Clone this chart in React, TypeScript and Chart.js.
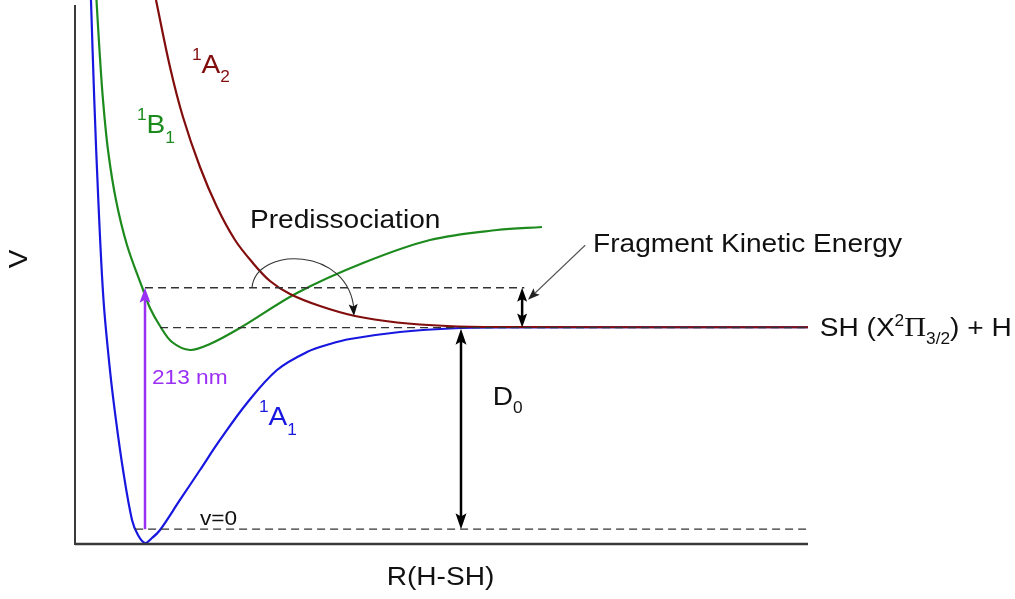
import React, { useEffect, useRef } from "react";
import { Chart, registerables } from "chart.js";

Chart.register(...registerables);

// ---- Data (R: internuclear distance, arbitrary units 0..100; V: energy, arbitrary units 0..100) ----
// Ground state 1A1
const R_A1 = [2.18, 2.63, 3.18, 3.89, 4.77, 5.59, 6.55, 7.78, 8.59, 9.55, 10.5, 11.6, 14.32, 17.05, 19.78, 23.47, 27.56, 31.65, 34.79, 37.52, 44.34, 51.16, 57.98, 100];
const V_A1 = [100, 81.65, 63.3, 44.95, 32.1, 22.9, 13.8, 4.6, 1.83, 0.37, 1.28, 2.75, 8.26, 13.76, 19.27, 26.06, 32.11, 35.41, 36.88, 37.8, 39.08, 39.72, 39.91, 39.95];
// Excited state 1B1 (bound)
const R_B1 = [2.93, 3.34, 3.82, 4.5, 5.59, 7.09, 9.14, 10.23, 11.6, 13.23, 15.69, 18.42, 22.51, 30.29, 39.29, 48.43, 57.57, 63.71];
const V_B1 = [100, 90.83, 81.65, 72.48, 63.3, 55.05, 47.34, 43.49, 40.18, 37.25, 35.78, 36.88, 39.82, 46.24, 51.74, 55.96, 57.8, 58.35];
// Repulsive state 1A2
const R_A2 = [11.05, 12.96, 14.73, 17.05, 19.37, 21.83, 24.15, 26.6, 29.33, 33.42, 38.2, 43.93, 50.75, 57.98, 100];
const V_A2 = [100, 87.71, 78.53, 69.36, 62.02, 55.96, 51.93, 48.44, 46.06, 43.85, 42.02, 40.83, 40.18, 40.0, 39.95];

// Horizontal (dashed) energy levels
const LEVEL_NAMES = ["excited", "asymptote", "v=0"];
const LEVEL_V = [47.2, 39.9, 2.9];
const LEVEL_R_START = [9.55, 11.6, 8.2];
const LEVEL_R_END = [61.3, 100, 100];

// Vertical arrows: [R, V from, V to]
const PHOTON_ARROW = [9.55, 2.9, 47.2];
const D0_ARROW = [52.66, 39.7, 2.9];
const FKE_ARROW = [61.0, 47.2, 39.9];

// ---- styles ----
const BLUE = "#1717e0";
const GREEN = "#1d8a1d";
const RED = "#820d0d";
const PURPLE = "#9b30f5";
const SANS = "'Liberation Sans', Arial, sans-serif";
const SERIF = "'Liberation Serif', 'Times New Roman', serif";
const SX = 1.08;

type Part = { t: string; size: number; dy?: number; serif?: boolean };

function drawParts(ctx: CanvasRenderingContext2D, x: number, y: number, parts: Part[], color: string) {
  ctx.save();
  ctx.translate(x, y);
  ctx.scale(SX, 1);
  ctx.fillStyle = color;
  ctx.textBaseline = "alphabetic";
  ctx.textAlign = "left";
  let cx = 0;
  for (const p of parts) {
    ctx.font = `${p.size}px ${p.serif ? SERIF : SANS}`;
    ctx.fillText(p.t, cx, p.dy || 0);
    cx += ctx.measureText(p.t).width;
  }
  ctx.restore();
}

function arrowHead(ctx: CanvasRenderingContext2D, tipX: number, tipY: number, ang: number, len: number, halfW: number, color: string) {
  ctx.save();
  ctx.translate(tipX, tipY);
  ctx.rotate(ang);
  ctx.fillStyle = color;
  ctx.beginPath();
  ctx.moveTo(0, 0);
  ctx.lineTo(-len, halfW);
  ctx.lineTo(-len * 0.8, 0);
  ctx.lineTo(-len, -halfW);
  ctx.closePath();
  ctx.fill();
  ctx.restore();
}

function line(ctx: CanvasRenderingContext2D, x1: number, y1: number, x2: number, y2: number, color: string, w: number) {
  ctx.save();
  ctx.strokeStyle = color;
  ctx.lineWidth = w;
  ctx.beginPath();
  ctx.moveTo(x1, y1);
  ctx.lineTo(x2, y2);
  ctx.stroke();
  ctx.restore();
}

const toPts = (xs: number[], ys: number[]) => xs.map((x, i) => ({ x, y: ys[i] }));

const annotationPlugin = {
  id: "pesAnnotations",
  afterDatasetsDraw(chart: any) {
    const ctx: CanvasRenderingContext2D = chart.ctx;
    const xs = chart.scales.x;
    const ys = chart.scales.y;
    const px = (v: number) => xs.getPixelForValue(v);
    const py = (v: number) => ys.getPixelForValue(v);
    const area = chart.chartArea;

    // axes
    line(ctx, area.left, area.top + 5, area.left, area.bottom, "#3a3a3a", 2);
    line(ctx, area.left, area.bottom - 1, area.right, area.bottom - 1, "#3a3a3a", 2.5);

    // photon arrow (213 nm)
    {
      const x = px(PHOTON_ARROW[0]);
      const y1 = py(PHOTON_ARROW[1]);
      const y2 = py(PHOTON_ARROW[2]);
      line(ctx, x, y1, x, y2 + 12, PURPLE, 2.5);
      arrowHead(ctx, x, y2, -Math.PI / 2, 15, 5.5, PURPLE);
    }
    // D0 arrow
    {
      const x = px(D0_ARROW[0]);
      const yTop = py(D0_ARROW[1]);
      const yBot = py(D0_ARROW[2]);
      line(ctx, x, yTop + 12, x, yBot - 12, "#000", 2.5);
      arrowHead(ctx, x, yTop, -Math.PI / 2, 16, 5.5, "#000");
      arrowHead(ctx, x, yBot, Math.PI / 2, 16, 5.5, "#000");
    }
    // Fragment kinetic energy arrow
    {
      const x = px(FKE_ARROW[0]);
      const yTop = py(FKE_ARROW[1]);
      const yBot = py(FKE_ARROW[2]);
      line(ctx, x, yTop + 10, x, yBot - 10, "#000", 2.5);
      arrowHead(ctx, x, yTop, -Math.PI / 2, 14, 5, "#000");
      arrowHead(ctx, x, yBot, Math.PI / 2, 14, 5, "#000");
    }
    // pointer from label to the kinetic-energy arrow
    {
      const x1 = px(69.6), y1 = py(55.0);
      const x2 = px(61.8), y2 = py(45.0);
      const ang = Math.atan2(y2 - y1, x2 - x1);
      line(ctx, x1, y1, x2 - Math.cos(ang) * 8, y2 - Math.sin(ang) * 8, "#555", 1.1);
      arrowHead(ctx, x2, y2, ang, 12, 4.5, "#222");
    }
    // predissociation curved arrow
    {
      const s = [px(24.15), py(47.25)];
      const c1 = [px(24.69), py(54.86)];
      const c2 = [px(37.4), py(54.86)];
      const e = [px(38.06), py(42.0)];
      ctx.save();
      ctx.strokeStyle = "#333";
      ctx.lineWidth = 1.1;
      ctx.beginPath();
      ctx.moveTo(s[0], s[1]);
      ctx.bezierCurveTo(c1[0], c1[1], c2[0], c2[1], e[0], e[1] - 6);
      ctx.stroke();
      ctx.restore();
      const ang = Math.atan2(e[1] - c2[1], e[0] - c2[0]);
      arrowHead(ctx, e[0], e[1], ang, 12, 4.5, "#111");
    }

    // text labels
    drawParts(ctx, px(23.87), py(58.17), [{ t: "Predissociation", size: 26 }], "#111");
    drawParts(ctx, px(70.67), py(53.76), [{ t: "Fragment Kinetic Energy", size: 26 }], "#111");
    drawParts(ctx, px(101.6), py(38.4), [
      { t: "SH (X", size: 26 },
      { t: "2", size: 16, dy: -10 },
      { t: "\u03A0", size: 28, serif: true },
      { t: "3/2", size: 16, dy: 8 },
      { t: ") + H", size: 26 },
    ], "#111");
    drawParts(ctx, px(15.96), py(86.6), [
      { t: "1", size: 16, dy: -13 },
      { t: "A", size: 26 },
      { t: "2", size: 16, dy: 9 },
    ], RED);
    drawParts(ctx, px(8.46), py(75.6), [
      { t: "1", size: 16, dy: -13 },
      { t: "B", size: 26 },
      { t: "1", size: 16, dy: 10 },
    ], GREEN);
    drawParts(ctx, px(25.1), py(22.0), [
      { t: "1", size: 16, dy: -13 },
      { t: "A", size: 26 },
      { t: "1", size: 16, dy: 10 },
    ], BLUE);
    drawParts(ctx, px(10.5), py(29.5), [{ t: "213 nm", size: 21 }], PURPLE);
    drawParts(ctx, px(17.05), py(3.67), [{ t: "v=0", size: 21 }], "#111");
    drawParts(ctx, px(57.0), py(25.7), [
      { t: "D", size: 26 },
      { t: "0", size: 16, dy: 8 },
    ], "#111");

    // axis titles
    ctx.save();
    ctx.fillStyle = "#111";
    ctx.font = `26px ${SANS}`;
    ctx.textAlign = "center";
    ctx.textBaseline = "alphabetic";
    ctx.save();
    ctx.translate((area.left + area.right) / 2 - 1, area.bottom + 40);
    ctx.scale(SX, 1);
    ctx.fillText("R(H-SH)", 0, 0);
    ctx.restore();
    ctx.save();
    ctx.translate(area.left - 48, py(52.5));
    ctx.rotate(-Math.PI / 2);
    ctx.scale(SX, 1);
    ctx.fillText("V", 0, 0);
    ctx.restore();
    ctx.restore();
  },
};

export default function App() {
  const canvasRef = useRef<HTMLCanvasElement | null>(null);

  useEffect(() => {
    const canvas = canvasRef.current;
    if (!canvas) return;

    const levelSets = LEVEL_NAMES.map((name, i) => ({
      label: name,
      data: [
        { x: LEVEL_R_START[i], y: LEVEL_V[i] },
        { x: LEVEL_R_END[i], y: LEVEL_V[i] },
      ],
      showLine: true,
      borderColor: "#333",
      borderWidth: 1.3,
      borderDash: [8, 5],
      pointRadius: 0,
    }));

    const curve = (label: string, xs: number[], ys: number[], color: string) => ({
      label,
      data: toPts(xs, ys),
      showLine: true,
      borderColor: color,
      borderWidth: 2.2,
      pointRadius: 0,
      tension: 0.35,
    });

    const chart = new Chart(canvas, {
      type: "scatter",
      data: {
        datasets: [
          ...levelSets,
          curve("1A2", R_A2, V_A2, RED),
          curve("1B1", R_B1, V_B1, GREEN),
          curve("1A1", R_A1, V_A1, BLUE),
        ] as any,
      },
      options: {
        responsive: false,
        animation: false,
        devicePixelRatio: 1,
        layout: { padding: { left: 75, right: 207, top: 0, bottom: 54 } },
        plugins: {
          legend: { display: false },
          tooltip: { enabled: false },
        },
        scales: {
          x: { type: "linear", min: 0, max: 100, display: false },
          y: { type: "linear", min: 0, max: 100, display: false },
        },
      },
      plugins: [annotationPlugin],
    });

    return () => chart.destroy();
  }, []);

  return (
    <div style={{ position: "absolute", left: 0, top: 0, width: 1015, height: 599, background: "#fff" }}>
      <canvas ref={canvasRef} width={1015} height={599} style={{ display: "block" }} />
    </div>
  );
}
